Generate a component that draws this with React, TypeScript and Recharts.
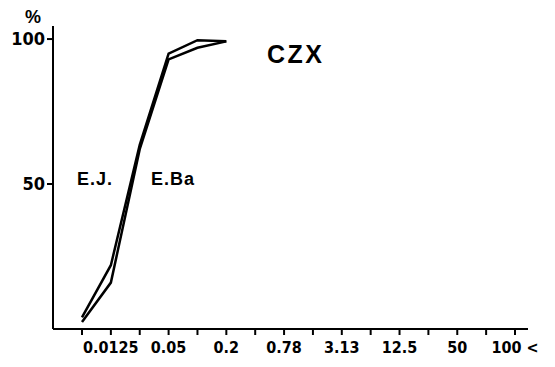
import React from "react";
import { Line, LineChart, XAxis, YAxis } from "recharts";

// dose steps (doubling dilution) and the labels printed under the axis
const doses = ["0.0063", "0.0125", "0.025", "0.05", "0.1", "0.2", "0.39", "0.78", "1.56", "3.13", "6.25", "12.5", "25", "50", "100", "100<"];
const tickLabels = ["", "0.0125", "", "0.05", "", "0.2", "", "0.78", "", "3.13", "", "12.5", "", "50", "", "100 <"];
const yTicks = [50, 100];

// cumulative % inhibited
const ejValues = [4, 22, 63.5, 95, 99.6, 99.2];
const ebaValues = [2.4, 16, 62, 93, 97, 99.2];

const data = doses.map((dose, i) => ({
  dose,
  ej: ejValues[i],
  eba: ebaValues[i],
}));

const xTickFont = { fontFamily: "DejaVu Sans Condensed", fontSize: 16, fontWeight: "bold", fill: "#000" };
const yTickFont = { ...xTickFont, fontSize: 18 };
const labelFont: React.CSSProperties = {
  position: "absolute",
  fontFamily: "Liberation Sans",
  color: "#000",
  lineHeight: 1,
  whiteSpace: "nowrap",
  fontWeight: "bold",
};

export default function App() {
  return (
    <div style={{ position: "absolute", left: 0, top: 0, width: 555, height: 367, background: "#fff" }}>
      <LineChart width={555} height={367} data={data} margin={{ top: 26, right: 27, bottom: 0, left: 0 }}>
        <XAxis
          dataKey="dose"
          interval={0}
          height={38}
          padding={{ left: 29, right: 13 }}
          tickFormatter={(_v: any, i: number) => tickLabels[i]}
          tick={xTickFont}
          tickSize={6}
          tickMargin={7}
          axisLine={{ stroke: "#000", strokeWidth: 2 }}
          tickLine={{ stroke: "#000", strokeWidth: 2 }}
        />
        <YAxis
          type="number"
          domain={[0, 104.5]}
          ticks={yTicks}
          width={53}
          tick={yTickFont}
          tickSize={6}
          tickMargin={2}
          axisLine={{ stroke: "#000", strokeWidth: 2 }}
          tickLine={{ stroke: "#000", strokeWidth: 2 }}
        />
        <Line dataKey="ej" stroke="#000" strokeWidth={2.5} dot={false} isAnimationActive={false} type="linear" />
        <Line dataKey="eba" stroke="#000" strokeWidth={2.5} dot={false} isAnimationActive={false} type="linear" />
      </LineChart>
      <div style={{ ...labelFont, left: 25, top: 8, fontSize: 18 }}>%</div>
      <div style={{ ...labelFont, left: 267, top: 42, fontSize: 25, letterSpacing: 2.5 }}>CZX</div>
      <div style={{ ...labelFont, left: 77, top: 170, fontSize: 18, letterSpacing: 1 }}>E.J.</div>
      <div style={{ ...labelFont, left: 151, top: 170, fontSize: 18, letterSpacing: 1 }}>E.Ba</div>
    </div>
  );
}
